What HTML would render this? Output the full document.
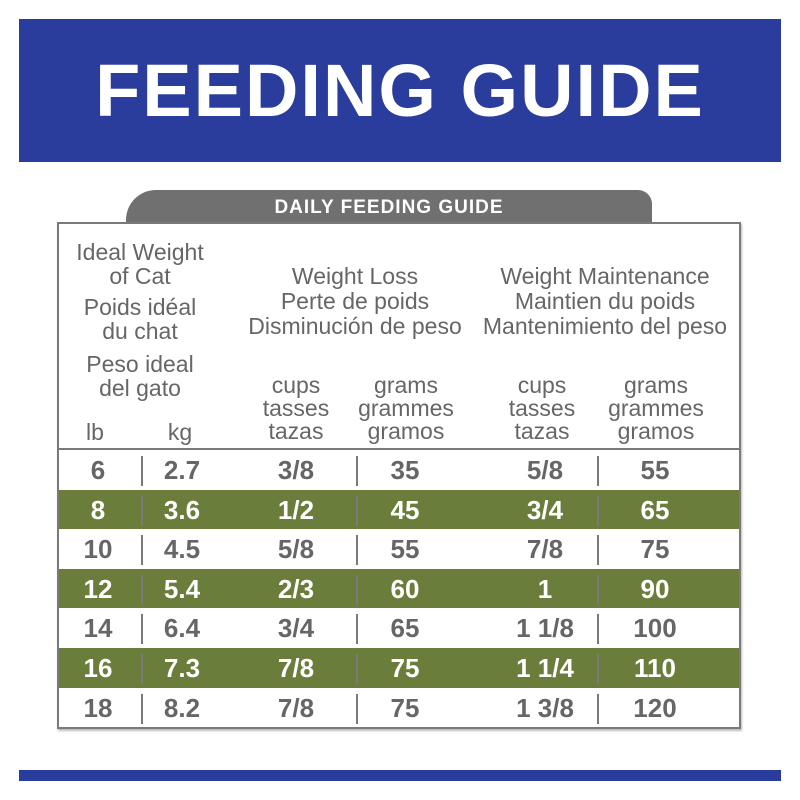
<!DOCTYPE html>
<html><head><meta charset="utf-8"><style>
body{margin:0;width:800px;height:800px;background:#fff;position:relative;font-family:"Liberation Sans",sans-serif;overflow:hidden}
.abs{position:absolute}
.banner{left:19px;top:19px;width:762px;height:143px;background:#2a3c9c;color:#fff;font-weight:bold;font-size:74px;text-align:center;line-height:143px;letter-spacing:2px}
.tab{left:126px;top:190px;width:526px;height:34px;background:#707070;border-radius:30px 14px 0 0;color:#fff;font-weight:bold;font-size:19px;text-align:center;line-height:36px;letter-spacing:1px}
.box{left:57px;top:222px;width:680px;height:503px;border:2px solid #7a7a7a;box-shadow:1px 2px 2px #bbb}
.h{color:#666;font-size:23px;text-align:center;line-height:25px;white-space:nowrap}
.row{left:59px;width:680px;height:39.7px}
.cell{position:absolute;top:0;height:39.7px;line-height:40px;font-weight:bold;font-size:26px;text-align:center;color:#666}
.g .cell{color:#fff}
.g{background:#6b7d3a}
.vl{position:absolute;width:2px;background:#7a7a7a}
</style></head><body>
<div class="abs banner">FEEDING GUIDE</div>
<div class="abs tab">DAILY FEEDING GUIDE</div>
<div class="abs box"></div>
<div class="abs h" style="left:40px;top:240px;width:200px;line-height:24px">Ideal Weight<br>of Cat</div>
<div class="abs h" style="left:40px;top:295px;width:200px;line-height:24px">Poids idéal<br>du chat</div>
<div class="abs h" style="left:40px;top:352px;width:200px;line-height:24px">Peso ideal<br>del gato</div>
<div class="abs h" style="left:230px;top:264px;width:250px">Weight Loss<br>Perte de poids<br>Disminución de peso</div>
<div class="abs h" style="left:470px;top:264px;width:270px">Weight Maintenance<br>Maintien du poids<br>Mantenimiento del peso</div>
<div class="abs h" style="left:75px;top:420px;width:40px">lb</div>
<div class="abs h" style="left:158px;top:420px;width:44px">kg</div>
<div class="abs h" style="left:246px;top:374px;width:100px;line-height:23px">cups<br>tasses<br>tazas</div>
<div class="abs h" style="left:346px;top:374px;width:120px;line-height:23px">grams<br>grammes<br>gramos</div>
<div class="abs h" style="left:492px;top:374px;width:100px;line-height:23px">cups<br>tasses<br>tazas</div>
<div class="abs h" style="left:596px;top:374px;width:120px;line-height:23px">grams<br>grammes<br>gramos</div>
<div class="abs" style="left:59px;top:448px;width:680px;height:2px;background:#7a7a7a"></div>
<div id="rows"></div>
<div class="abs" style="left:19px;top:770px;width:762px;height:11px;background:#2a3c9c"></div>
<script>
const lb=["6","8","10","12","14","16","18"];
const kg=["2.7","3.6","4.5","5.4","6.4","7.3","8.2"];
const lossCups=["3/8","1/2","5/8","2/3","3/4","7/8","7/8"];
const lossGrams=["35","45","55","60","65","75","75"];
const maintCups=["5/8","3/4","7/8","1","1 1/8","1 1/4","1 3/8"];
const maintGrams=["55","65","75","90","100","110","120"];
const cols=[[lb,98],[kg,182],[lossCups,296],[lossGrams,405],[maintCups,545],[maintGrams,655]];
const host=document.getElementById('rows');
lb.forEach((_,i)=>{
  const r=document.createElement('div');
  r.className='abs row'+(i%2?' g':'');
  r.style.top=(450+i*39.6)+'px';
  
  
  cols.forEach(([arr,cx])=>{
    const c=document.createElement('div');
    c.className='cell';
    c.style.left=(cx-59-50)+'px';c.style.width='100px';
    c.textContent=arr[i];
    
    
    r.appendChild(c);
  });
  [82,297,538].forEach(x=>{
    const v=document.createElement('div');
    v.className='vl';v.style.left=x+'px';v.style.top='6px';v.style.height='30px';
    
    
    r.appendChild(v);
  });
  host.appendChild(r);
});
</script>
</body></html>
